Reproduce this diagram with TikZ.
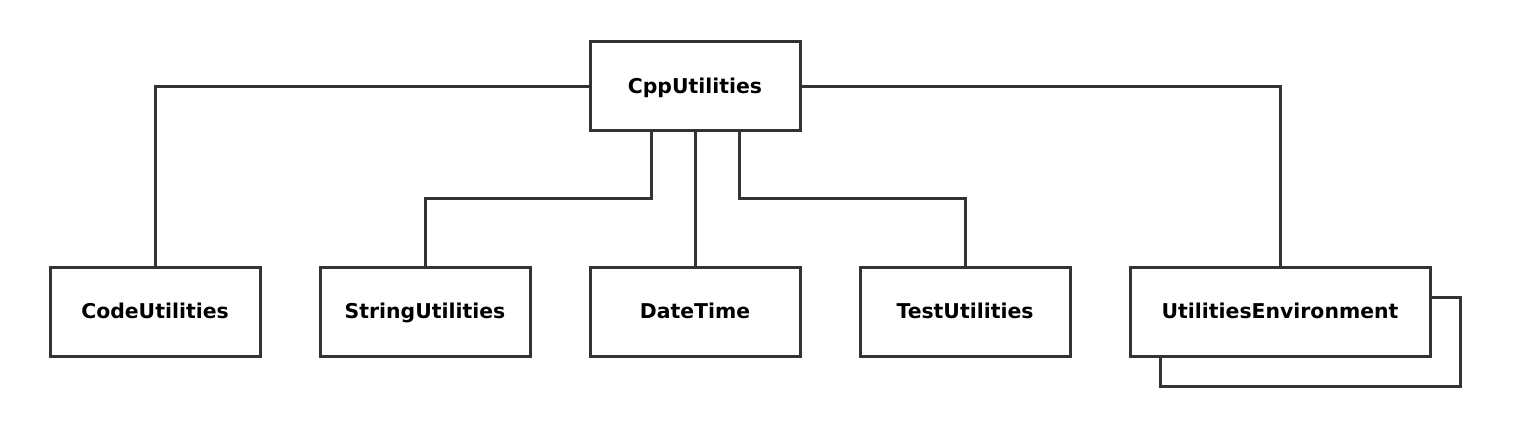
\documentclass[tikz,border=0pt]{standalone}
\usepackage{fontspec}
\setmainfont{DejaVu Sans}
\begin{document}
\begin{tikzpicture}[x=1pt,y=-1pt,
  box/.style={draw=black!80, line width=3pt, fill=white, minimum height=89pt, inner sep=0pt,
    text height=14.8pt, text depth=0pt,
    font=\fontsize{20.4}{24}\selectfont\bfseries, text=black},
  wbox/.style={box, minimum width=210pt},
  conn/.style={draw=black!80, line width=3pt}]
\useasboundingbox (0,0) rectangle (1515,422);
\node[box, minimum width=300pt] (sh) at (1310,342) {};
\node[wbox] (cpp) at (695,86.5) {CppUtilities};
\node[wbox] (code) at (155,311.5) {CodeUtilities};
\node[wbox] (str) at (425,311.5) {StringUtilities};
\node[wbox] (dt) at (695,311.5) {DateTime};
\node[wbox] (test) at (965,311.5) {TestUtilities};
\node[box, minimum width=300pt] (env) at (1280,311.5) {UtilitiesEnvironment};
\coordinate (j1) at (651,199);
\coordinate (j2) at (739,199);
\draw[conn] (cpp.west) -| (code.north);
\draw[conn] (cpp.east) -| (env.north);
\draw[conn] (cpp.south -| j1) -- (j1) -| (str.north);
\draw[conn] (cpp.south) -- (dt.north);
\draw[conn] (cpp.south -| j2) -- (j2) -| (test.north);
\end{tikzpicture}
\end{document}
